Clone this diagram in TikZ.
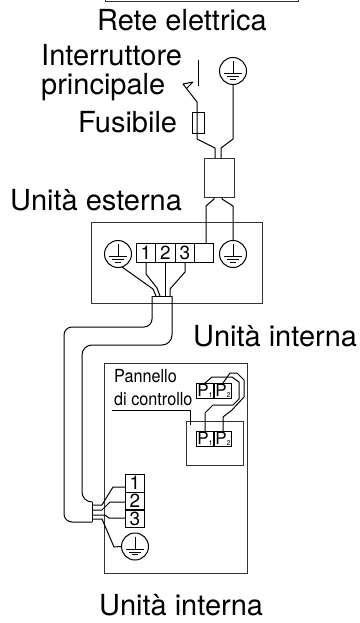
\documentclass[tikz,border=0pt]{standalone}
\usepackage{fontspec}
\setmainfont{TeX Gyre Heros}
\newfontfamily\narrowfont[FakeStretch=0.9]{TeX Gyre Heros}
\usepackage{tikz}
\usetikzlibrary{calc}
\tikzset{
  wire/.style={line width=1pt,line join=round},
  frame/.style={line width=1pt,draw=black!80},
  bigtext/.style={inner sep=0pt,anchor=base west,font=\fontsize{29}{29}\selectfont},
  paneltext/.style={inner sep=0pt,anchor=base west,font=\narrowfont\fontsize{18}{18}\selectfont},
  term/.style={draw,line width=1pt,inner sep=0pt,minimum width=19.5pt,minimum height=19pt,font=\fontsize{19}{19}\selectfont},
  pterm/.style={draw,line width=1pt,inner sep=0pt,minimum width=17.5pt,minimum height=15pt,font=\fontsize{17}{17}\selectfont},
  earth/.style={draw,circle,line width=1pt,inner sep=0pt,minimum size=27pt,
    path picture={
      \draw[line width=1pt] ($(path picture bounding box.center)+(0pt,10pt)$) -- ++(0pt,-12.5pt);
      \draw[line width=1pt] ($(path picture bounding box.center)+(-9pt,-2.7pt)$) -- ++(18pt,0pt);
      \draw[line width=1pt] ($(path picture bounding box.center)+(-6pt,-5.5pt)$) -- ++(12pt,0pt);
      \draw[line width=1pt] ($(path picture bounding box.center)+(-3pt,-8.2pt)$) -- ++(6pt,0pt);
    }},
}
\newcommand{\plabel}[1]{P\raisebox{-1pt}{\fontsize{7}{7}\selectfont #1}}
\begin{document}
\begin{tikzpicture}[x=1pt,y=-1pt]
\useasboundingbox (0,0) rectangle (359,623);
% mains
\draw[frame] (105.5,0) -- (105.5,1.5) -- (298.5,1.5) -- (298.5,0);
\node[bigtext] (rete) at (97,31) {Rete elettrica};
\node[bigtext] (switchlabel) at (41,66) {Interruttore};
\node[bigtext] (switchlabelb) at (41,95) {principale};
\node[bigtext] (fuselabel) at (78,132) {Fusibile};
\node[bigtext] (outlabel) at (10,210) {Unità esterna};
\node[bigtext] (inlabel) at (193,346) {Unità interna};
\node[bigtext] (inlabelb) at (99,615) {Unità interna};
% switch, fuse and filter
\draw[wire] (198,60) -- (198,86);
\draw[wire] (187,88) -- (193,82) -- (183,84) -- (197,102);
\node[draw,line width=1pt,minimum width=12pt,minimum height=20pt,inner sep=0pt] (fuse) at (198,123) {};
\node[earth] (earthtop) at (233,71) {};
\node[draw,frame,minimum width=30pt,minimum height=39pt,inner sep=0pt] (filter) at (219,177.5) {};
\draw[wire] (197,102) -- (197,139) -- (215,148) -- (215,158);
\draw[wire] (earthtop.south) -- (233,139) -- (221,148) -- (221,158);
% outdoor unit
\draw[frame] (91,222) rectangle (262,303);
\node[earth] (earthleft) at (118,254) {};
\node[earth] (earthright) at (233,254) {};
\node[term] (t1) at (146,252.5) {1};
\node[term] (t2) at (165.5,252.5) {2};
\node[term] (t3) at (185,252.5) {3};
\node[term] (t4) at (204,252.5) {};
\draw[wire] (214,197) -- (214,199) -- (206,206) -- (206,243);
\draw[wire] (222,197) -- (222,199) -- (233,206) -- (earthright.north);
\draw[wire] (122,267) -- (153,289) -- (156,296);
\draw[wire] (t1.south) -- (146,274) -- (157,288) -- (160,296);
\draw[wire] (t2.south) -- (165.5,296);
\draw[wire] (t3.south) -- (185,272) -- (170,289) -- (170,296);
% cable between the units
\draw[wire] (152,296) -- (172,296);
\draw[wire,rounded corners=8pt] (152,296) -- (152,327) -- (64,327) -- (64,522) -- (92,522);
\draw[wire,rounded corners=10pt] (172,296) -- (172,345) -- (82,345) -- (82,502) -- (92,502);
\draw[wire] (92,502) -- (92,522);
% indoor unit
\draw[frame] (104,363) rectangle (247,573);
\node[paneltext] (panel) at (114,382) {Pannello};
\node[paneltext] (panelb) at (114,405) {di controllo};
\draw[wire] (112,410) -- (190,410) -- (190,425);
\draw[frame] (186,421) rectangle (243,465);
\node[pterm] (pa) at (205,391) {\plabel{1}};
\node[pterm] (pb) at (223,391) {\plabel{2}};
\node[pterm] (pc) at (205,439) {\plabel{1}};
\node[pterm] (pd) at (223,439) {\plabel{2}};
\draw[wire] (pc.north) -- (205,413) -- (213,405) -- (233,405) -- (239,399) -- (239,382) -- (232,377) -- (212,377) -- (pa.north);
\draw[wire] (pd.north) -- (223,417) -- (232,410) -- (244,397) -- (244,380) -- (237,373) -- (230,373) -- (pb.north);
\node[term,minimum height=18pt] (ta) at (135,483) {1};
\node[term,minimum height=18pt] (tb) at (135,501) {2};
\node[term,minimum height=18pt] (tc) at (135,518.5) {3};
\node[earth] (earthin) at (135,546.5) {};
\draw[wire] (92,505) -- (102,505) -- (113,487) -- (ta.west |- 0,487);
\draw[wire] (92,510) -- (102,510) -- (110,502) -- (tb.west |- 0,502);
\draw[wire] (92,515) -- (105,515) -- (109,518) -- (tc.west |- 0,518);
\draw[wire] (92,519) -- (102,519) -- (114,547) -- (earthin.west);
\end{tikzpicture}
\end{document}
